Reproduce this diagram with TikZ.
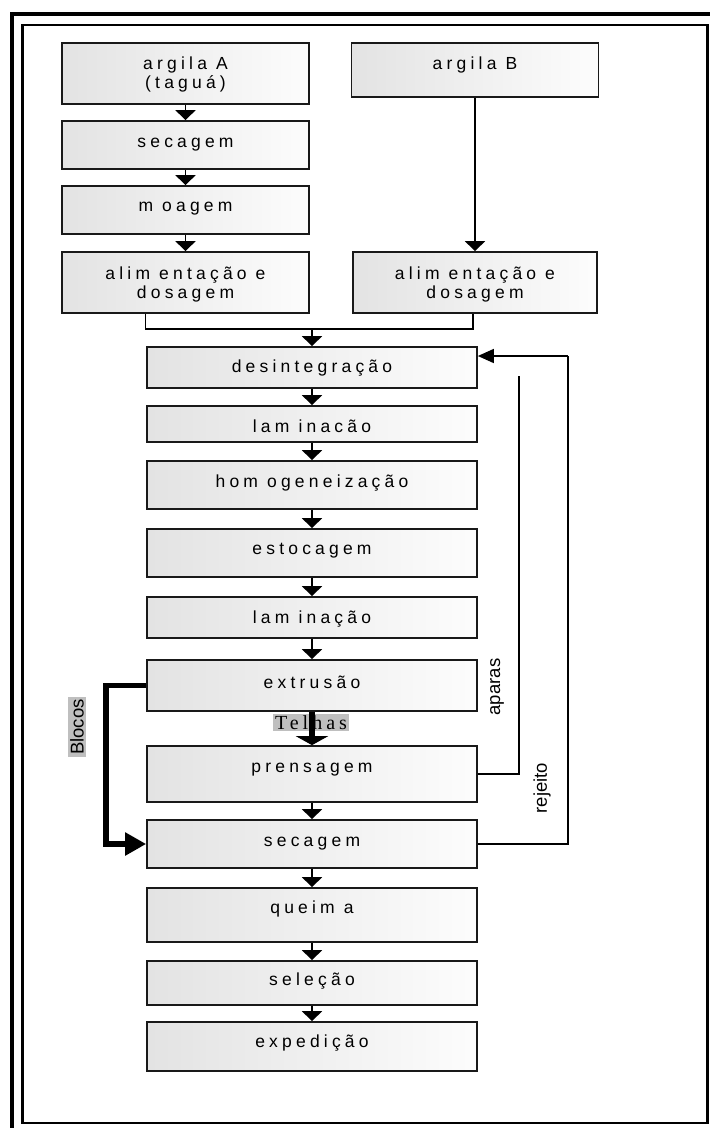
\documentclass[tikz,border=0pt]{standalone}
\usepackage{fontspec}
\setmainfont{Liberation Sans}
\newfontfamily\spaced{Liberation Sans}[LetterSpace=24]
\newfontfamily\spacedserif{Liberation Serif}[LetterSpace=20]
\usetikzlibrary{arrows.meta}
\colorlet{boxleft}{black!11}
\colorlet{boxright}{black!1}
\colorlet{taggray}{black!25}
\tikzset{
    every path/.style={line width=1.5pt},
    box/.style={draw=black!90, line width=1.7pt, left color=boxleft, right color=boxright,
        anchor=base, inner ysep=0pt, align=center, font=\spaced\fontsize{17.5}{19}\selectfont},
    flow/.style={-{Triangle[width=20pt,length=10pt]}},
    back/.style={-{Triangle[width=14pt,length=16pt]}},
    route/.style={line width=5.5pt, -{Triangle[width=22pt,length=21pt]}},
    tile/.style={line width=6pt, -{Triangle[width=32pt,length=9pt]}},
    side/.style={rotate=90, inner sep=2pt, font=\fontsize{18.5}{20}\selectfont},
    grey/.style={fill=taggray}
}

\begin{document}
\begin{tikzpicture}[x=1pt,y=-1pt]
\useasboundingbox (0,0) rectangle (710,1128);
% frame
\draw[line width=4pt] (12,1128) |- (710,13.5);
\draw[line width=2.5pt] (22.5,25) rectangle (707.5,1123);

% argila A
\node[box, minimum width=247pt, text height=45pt, text depth=16pt] (argA) at (185.5,88) {argila A\\(taguá)};
\node[box, minimum width=247pt, text height=26pt, text depth=22pt] (secA) at (185.5,147) {secagem};
\node[box, minimum width=247pt, text height=25pt, text depth=23pt] (moaA) at (185.5,211) {m oagem};
\node[box, minimum width=247pt, text height=46pt, text depth=15pt] (aliA) at (185.5,298) {alim entação e\\dosagem};
\draw[flow] (argA.south) -- (secA.north);
\draw[flow] (secA.south) -- (moaA.north);
\draw[flow] (moaA.south) -- (aliA.north);

% argila B
\node[box, minimum width=247pt, text height=26pt, text depth=28pt] (argB) at (475,69) {argila B};
\node[box, minimum width=244pt, text height=46pt, text depth=15pt] (aliB) at (475,298) {alim entação e\\dosagem};
\draw[flow] (argB.south) -- (aliB.north);

% main line
\node[box, minimum width=330pt, text height=25pt, text depth=16pt] (des) at (312,372) {desintegração};
\node[box, minimum width=330pt, text height=26pt, text depth=10pt] (lam1) at (312,432) {lam inacão};
\node[box, minimum width=330pt, text height=26pt, text depth=22pt] (hom) at (312,487) {hom ogeneização};
\node[box, minimum width=330pt, text height=25pt, text depth=23pt] (est) at (312,554) {estocagem};
\node[box, minimum width=330pt, text height=26pt, text depth=15pt] (lam2) at (312,623) {lam inação};
\node[box, minimum width=330pt, text height=28pt, text depth=23pt] (ext) at (312,688) {extrusão};
\node[box, minimum width=330pt, text height=26pt, text depth=30pt] (pre) at (312,772) {prensagem};
\node[box, minimum width=330pt, text height=26pt, text depth=22pt] (sec) at (312,846) {secagem};
\node[box, minimum width=330pt, text height=25pt, text depth=29pt] (que) at (312,913) {queim a};
\node[box, minimum width=330pt, text height=24pt, text depth=20pt] (sel) at (312,985) {seleção};
\node[box, minimum width=330pt, text height=25pt, text depth=24pt] (exp) at (312,1047) {expedição};

\coordinate (join) at (312,329);
\draw ([xshift=-40pt]aliA.south) |- (join) -| ([xshift=-2pt]aliB.south);
\draw[flow] (join) -- (des.north);
\draw[flow] (des.south) -- (lam1.north);
\draw[flow] (lam1.south) -- (hom.north);
\draw[flow] (hom.south) -- (est.north);
\draw[flow] (est.south) -- (lam2.north);
\draw[flow] (lam2.south) -- (ext.north);
\draw[flow] (pre.south) -- (sec.north);
\draw[flow] (sec.south) -- (que.north);
\draw[flow] (que.south) -- (sel.north);
\draw[flow] (sel.south) -- (exp.north);

% telhas / blocos
\node[grey, inner xsep=2pt, inner ysep=1pt, font=\spacedserif\fontsize{20}{20}\selectfont] (telhas) at (311,722.5) {Telhas};
\draw[tile] (ext.south) -- (pre.north);
\node[side, grey] (blocos) at (77,727) {Blocos};
\draw[route] (ext.west) -- ++(-40,0) |- (sec.west);

% aparas / rejeito
\coordinate (aparasTop) at (519,376);
\coordinate (rejTop) at (568,356);
\draw (pre.east) -| (aparasTop);
\draw (sec.east) -| (rejTop);
\draw[back] (rejTop) -- (rejTop -| des.east);
\node[side] (aparas) at (497,687) {aparas};
\node[side] (rejeito) at (542,788) {rejeito};
\end{tikzpicture}
\end{document}
